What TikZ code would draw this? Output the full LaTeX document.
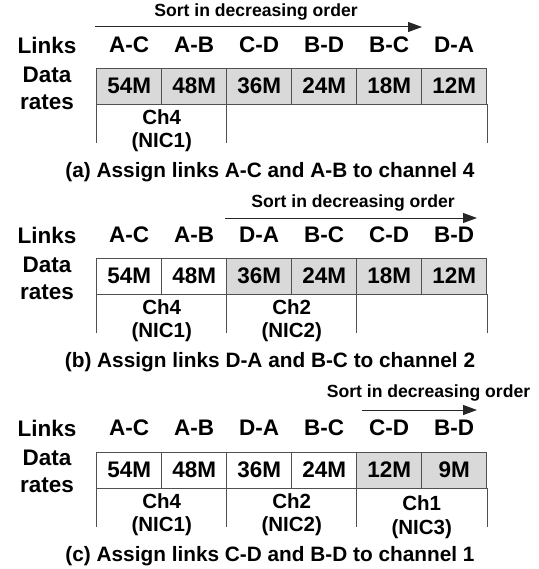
\documentclass[tikz,border=0pt]{standalone}
\usepackage{fontspec}
\setmainfont{Liberation Sans}
\usetikzlibrary{arrows.meta}
\definecolor{cellgray}{HTML}{D9D9D9}
\definecolor{linegray}{HTML}{505050}
\begin{document}
\begin{tikzpicture}[x=1pt,y=-1pt,
  cell/.style={draw=linegray, line width=0.9pt, minimum width=65pt, minimum height=36pt, inner sep=0pt, font=\fontsize{22.5}{22.5}\selectfont\bfseries},
  lnk/.style={inner sep=0pt, font=\fontsize{22.5}{22.5}\selectfont\bfseries},
  side/.style={inner sep=0pt, font=\fontsize{22.5}{22.5}\selectfont\bfseries},
  chl/.style={inner sep=0pt, font=\fontsize{20.5}{20.5}\selectfont\bfseries},
  captext/.style={inner sep=0pt, font=\fontsize{20.8}{20.8}\selectfont\bfseries},
  sorttxt/.style={inner sep=0pt, font=\fontsize{17.6}{17.6}\selectfont\bfseries},
  sortarrow/.style={draw=black!85, line width=1pt, -{Triangle[length=14pt,width=10pt]}},
  grp/.style={draw=linegray, line width=0.9pt}
]
\useasboundingbox (0,0) rectangle (538,569);

% ---------- panel (a) ----------
\node[sorttxt] (sa) at (256,12) {Sort in decreasing order};
\coordinate (sa1) at (95,27);
\coordinate (sa2) at (422,27);
\draw[sortarrow] (sa1) -- (sa2);
\node[side] (linksa) at (47,45) {Links};
\node[side] (dataa) at (47,75) {Data};
\node[side] (ratesa) at (47,102) {rates};
\foreach \l/\v/\f [count=\i] in {A-C/54M/cellgray,A-B/48M/cellgray,C-D/36M/cellgray,B-D/24M/cellgray,B-C/18M/cellgray,D-A/12M/cellgray}{
  \node[cell, fill=\f] (a\i) at ({96.7+65*(\i-0.5)},86) {\v};
  \node[lnk] (la\i) at ({96.7+65*(\i-0.5)},45) {\l};
}
\foreach \n in {1,3}{\draw[grp] (a\n.south west) -- ++(0,39);}
\draw[grp] (a6.south east) -- ++(0,39);
\node[chl] (cha1) at (161.7,117) {Ch4};
\node[chl] (nica1) at (161.7,142) {(NIC1)};
\node[captext] (capa) at (270,172.5) {(a) Assign links A-C and A-B to channel 4};

% ---------- panel (b) ----------
\node[sorttxt] (sb) at (353,203) {Sort in decreasing order};
\coordinate (sb1) at (225,218);
\coordinate (sb2) at (477,218);
\draw[sortarrow] (sb1) -- (sb2);
\node[side] (linksb) at (47,235) {Links};
\node[side] (datab) at (47,265) {Data};
\node[side] (ratesb) at (47,292) {rates};
\foreach \l/\v/\f [count=\i] in {A-C/54M/white,A-B/48M/white,D-A/36M/cellgray,B-C/24M/cellgray,C-D/18M/cellgray,B-D/12M/cellgray}{
  \node[cell, fill=\f] (b\i) at ({96.7+65*(\i-0.5)},276) {\v};
  \node[lnk] (lb\i) at ({96.7+65*(\i-0.5)},235) {\l};
}
\foreach \n in {1,3,5}{\draw[grp] (b\n.south west) -- ++(0,39);}
\draw[grp] (b6.south east) -- ++(0,39);
\node[chl] (chb1) at (161.7,307) {Ch4};
\node[chl] (nicb1) at (161.7,332) {(NIC1)};
\node[chl] (chb2) at (291.7,307) {Ch2};
\node[chl] (nicb2) at (291.7,332) {(NIC2)};
\node[captext] (capb) at (270,362) {(b) Assign links D-A and B-C to channel 2};

% ---------- panel (c) ----------
\node[sorttxt] (sc) at (428.5,393) {Sort in decreasing order};
\coordinate (sc1) at (362,410);
\coordinate (sc2) at (477,410);
\draw[sortarrow] (sc1) -- (sc2);
\node[side] (linksc) at (47,428) {Links};
\node[side] (datac) at (47,458) {Data};
\node[side] (ratesc) at (47,485) {rates};
\foreach \l/\v/\f [count=\i] in {A-C/54M/white,A-B/48M/white,D-A/36M/white,B-C/24M/white,C-D/12M/cellgray,B-D/9M/cellgray}{
  \node[cell, fill=\f] (c\i) at ({96.7+65*(\i-0.5)},470) {\v};
  \node[lnk] (lc\i) at ({96.7+65*(\i-0.5)},428) {\l};
}
\foreach \n in {1,3,5}{\draw[grp] (c\n.south west) -- ++(0,39);}
\draw[grp] (c6.south east) -- ++(0,39);
\node[chl] (chc1) at (161.7,501) {Ch4};
\node[chl] (nicc1) at (161.7,526) {(NIC1)};
\node[chl] (chc2) at (291.7,501) {Ch2};
\node[chl] (nicc2) at (291.7,526) {(NIC2)};
\node[chl] (chc3) at (421.7,503) {Ch1};
\node[chl] (nicc3) at (421.7,529) {(NIC3)};
\node[captext] (capc) at (270,556.5) {(c) Assign links C-D and B-D to channel 1};
\end{tikzpicture}
\end{document}
